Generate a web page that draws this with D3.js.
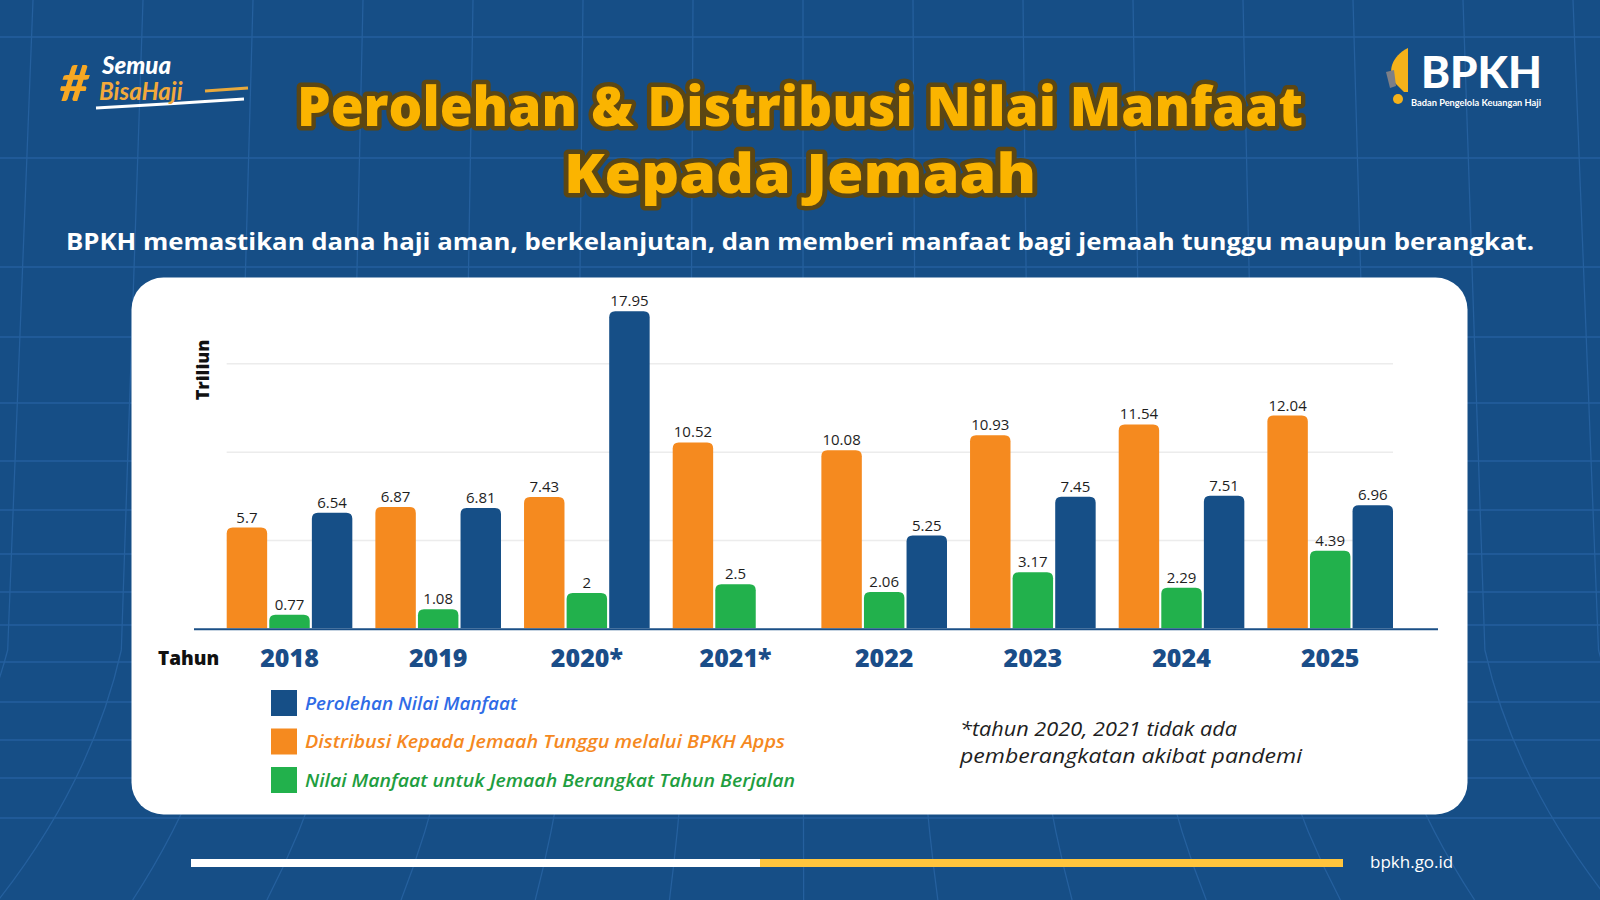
<!DOCTYPE html>
<html>
<head>
<meta charset="utf-8">
<script src="https://cdn.jsdelivr.net/npm/d3@7"></script>
<style>
  html, body { margin: 0; padding: 0; background: #164e86; }
  svg { display: block; font-family: "Open Sans", "Noto Sans", sans-serif; }
</style>
</head>
<body>
<div id="root"></div>
<script>
// data (triliun)
const years = ["2018", "2019", "2020*", "2021*", "2022", "2023", "2024", "2025"];
const distribusi = [5.7, 6.87, 7.43, 10.52, 10.08, 10.93, 11.54, 12.04];
const berangkat = [0.77, 1.08, 2, 2.5, 2.06, 3.17, 2.29, 4.39];
const perolehan = [6.54, 6.81, 17.95, null, 5.25, 7.45, 7.51, 6.96];
const seriesKeys = ["distribusi", "berangkat", "perolehan"];
const legendLabels = [
  "Perolehan Nilai Manfaat",
  "Distribusi Kepada Jemaah Tunggu melalui BPKH Apps",
  "Nilai Manfaat untuk Jemaah Berangkat Tahun Berjalan"
];
const yTicks = [5, 10, 15];

const W = 1600, H = 900;
const COLORS = { distribusi: "#f58a1f", berangkat: "#22b14c", perolehan: "#164f87" };
const TEXTCOL = { distribusi: "#f5891f", berangkat: "#1f9e3f", perolehan: "#2f6be6" };

const svg = d3.select("#root").append("svg")
  .attr("width", W).attr("height", H);

// background
svg.append("rect").attr("width", W).attr("height", H).attr("fill", "#164e86");

// faint grid in background
const bg = svg.append("g").attr("stroke", "#2a66a6").attr("stroke-width", 1.3)
  .attr("fill", "none").attr("opacity", 0.75);
d3.range(-2, 17).forEach(k => {
  const x = 33 + k * 110;
  const dx = (x - 800) * 0.22;
  bg.append("path").attr("d", `M${x},0 L${x + dx * 0.15},650 Q${x + dx * 0.35},780 ${x + dx},${H}`);
});
[37, 158, 267, 337, 403, 461, 510, 554, 592, 625, 662, 702, 740, 778, 818].forEach(y => {
  bg.append("line").attr("x1", 0).attr("x2", W).attr("y1", y).attr("y2", y);
});

// left logo #SemuaBisaHaji
const logoL = svg.append("g").attr("font-family", "Lato, sans-serif").attr("font-style", "italic");
logoL.append("path").attr("d", "M96,108 Q170,104 244,99").attr("stroke", "#fff")
  .attr("stroke-width", 3).attr("fill", "none");
logoL.append("path").attr("d", "M205,91 L248,88").attr("stroke", "#e8a93c")
  .attr("stroke-width", 3).attr("fill", "none");
logoL.append("text").attr("x", 60).attr("y", 101)
  .attr("font-size", 50).attr("font-weight", 900).attr("fill", "#f7a823").text("#");
logoL.append("text").attr("x", 102).attr("y", 74)
  .attr("font-size", 24).attr("font-weight", 900).attr("fill", "#fff").text("Semua");
logoL.append("text").attr("x", 99).attr("y", 100)
  .attr("font-size", 24).attr("font-weight", 700).attr("fill", "#f2a93b").text("BisaHaji");

// right logo BPKH
const logoR = svg.append("g").attr("font-family", "Lato, sans-serif").attr("fill", "#fff");
logoR.append("path").attr("d", "M1408,48 C1392,56 1386,72 1396,84 L1404,92 L1408,92 Z")
  .attr("fill", "#f5b21a");
logoR.append("path").attr("d", "M1386,72 L1394,70 L1396,86 L1390,88 Z").attr("fill", "#7d7f86");
logoR.append("circle").attr("cx", 1398).attr("cy", 99).attr("r", 5).attr("fill", "#f5b21a");
logoR.append("text").attr("x", 1421).attr("y", 88)
  .attr("font-size", 43).attr("font-weight", 900)
  .attr("textLength", 121).attr("lengthAdjust", "spacingAndGlyphs").text("BPKH");
logoR.append("text").attr("x", 1411).attr("y", 106)
  .attr("font-size", 10).attr("font-weight", 700)
  .attr("textLength", 130).attr("lengthAdjust", "spacingAndGlyphs")
  .text("Badan Pengelola Keuangan Haji");

// title
const title = svg.append("g").attr("text-anchor", "middle")
  .attr("font-size", 54).attr("font-weight", 800)
  .attr("fill", "#fbb400").attr("stroke", "#5b4613").attr("stroke-width", 9)
  .attr("stroke-linejoin", "round").style("paint-order", "stroke");
title.append("text").attr("x", 800).attr("y", 126)
  .attr("textLength", 1006).attr("lengthAdjust", "spacingAndGlyphs")
  .text("Perolehan & Distribusi Nilai Manfaat");
title.append("text").attr("x", 800).attr("y", 193)
  .attr("textLength", 472).attr("lengthAdjust", "spacingAndGlyphs")
  .text("Kepada Jemaah");

svg.append("text").attr("x", 800).attr("y", 250).attr("text-anchor", "middle")
  .attr("font-size", 24).attr("font-weight", 700).attr("fill", "#fff")
  .attr("textLength", 1468).attr("lengthAdjust", "spacingAndGlyphs")
  .text("BPKH memastikan dana haji aman, berkelanjutan, dan memberi manfaat bagi jemaah tunggu maupun berangkat.");

// white card
svg.append("rect").attr("x", 131.5).attr("y", 277.5).attr("width", 1336).attr("height", 537)
  .attr("rx", 32).attr("fill", "#fff");

// scales
const x0 = d3.scaleBand().domain(years).range([226.7, 1393]).paddingInner(0.155).paddingOuter(0);
const x1 = d3.scaleBand().domain(seriesKeys).range([0, x0.bandwidth()]).paddingInner(0.05);
const y = d3.scaleLinear().domain([0, 20]).range([628.3, 275]);

// gridlines
svg.append("g").attr("class", "grid")
  .attr("transform", "translate(226.7,0)")
  .call(d3.axisLeft(y).tickValues(yTicks).tickSize(-(1393 - 226.7)).tickFormat(""))
  .call(g => g.select(".domain").remove())
  .call(g => g.selectAll("line").attr("stroke", "#ececec").attr("stroke-width", 1.5));

const rows = years.map((yr, i) => ({
  year: yr,
  values: [
    { key: "distribusi", v: distribusi[i] },
    { key: "berangkat", v: berangkat[i] },
    { key: "perolehan", v: perolehan[i] }
  ].filter(d => d.v != null)
}));

function topRounded(x, yTop, w, h, r) {
  r = Math.min(r, h / 2, w / 2);
  return `M${x},${yTop + h} V${yTop + r} Q${x},${yTop} ${x + r},${yTop} H${x + w - r} Q${x + w},${yTop} ${x + w},${yTop + r} V${yTop + h} Z`;
}

const groups = svg.append("g").selectAll("g").data(rows).join("g")
  .attr("transform", d => `translate(${x0(d.year)},0)`);

groups.selectAll("path").data(d => d.values).join("path")
  .attr("d", d => topRounded(x1(d.key), y(d.v), x1.bandwidth(), y(0) - y(d.v), 6))
  .attr("fill", d => COLORS[d.key]);

groups.selectAll("text").data(d => d.values).join("text")
  .attr("x", d => x1(d.key) + x1.bandwidth() / 2)
  .attr("y", d => y(d.v) - 5)
  .attr("text-anchor", "middle")
  .attr("font-size", 15).attr("font-weight", 500).attr("fill", "#1e1e1e")
  .text(d => d.v);

// baseline
svg.append("line").attr("x1", 194).attr("x2", 1438).attr("y1", y(0) + 1).attr("y2", y(0) + 1)
  .attr("stroke", "#1b4f86").attr("stroke-width", 2);

// x axis labels
svg.append("g").attr("transform", `translate(0,${y(0)})`)
  .call(d3.axisBottom(x0).tickSize(0).tickPadding(21))
  .call(g => g.select(".domain").remove())
  .call(g => g.selectAll("text")
    .attr("font-family", "Open Sans, sans-serif")
    .attr("font-size", 25).attr("font-weight", 800).attr("fill", "#1a4d88"));

svg.append("text").attr("x", 158).attr("y", 665)
  .attr("font-size", 19).attr("font-weight", 800).attr("fill", "#111").text("Tahun");

svg.append("text").attr("transform", "translate(209,370) rotate(-90)")
  .attr("text-anchor", "middle")
  .attr("font-size", 18).attr("font-weight", 800).attr("fill", "#111").text("Triliun");

// legend
const legendOrder = ["perolehan", "distribusi", "berangkat"];
const legendWidths = [212, 480, 490];
const legend = svg.append("g").selectAll("g").data(legendOrder).join("g")
  .attr("transform", (d, i) => `translate(271,${690 + i * 38.5})`);
legend.append("rect").attr("width", 26).attr("height", 26).attr("fill", d => COLORS[d]);
legend.append("text").attr("x", 34).attr("y", 19.5)
  .attr("font-size", 18.5).attr("font-weight", 600).attr("font-style", "italic")
  .attr("fill", d => TEXTCOL[d])
  .attr("textLength", (d, i) => legendWidths[i]).attr("lengthAdjust", "spacingAndGlyphs")
  .text((d, i) => legendLabels[i]);

// footnote
const note = svg.append("g").attr("font-size", 20.5).attr("font-style", "italic")
  .attr("font-weight", 400).attr("fill", "#1e1e1e");
note.append("text").attr("x", 960).attr("y", 736)
  .attr("textLength", 277).attr("lengthAdjust", "spacingAndGlyphs")
  .text("*tahun 2020, 2021 tidak ada");
note.append("text").attr("x", 960).attr("y", 763)
  .attr("textLength", 342).attr("lengthAdjust", "spacingAndGlyphs")
  .text("pemberangkatan akibat pandemi");

// footer bar
svg.append("rect").attr("x", 191).attr("y", 859).attr("width", 569).attr("height", 8).attr("fill", "#fff");
svg.append("rect").attr("x", 760).attr("y", 859).attr("width", 583).attr("height", 8).attr("fill", "#ffc53d");
svg.append("text").attr("x", 1370).attr("y", 868)
  .attr("font-size", 17).attr("fill", "#fff").text("bpkh.go.id");
</script>
</body>
</html>
